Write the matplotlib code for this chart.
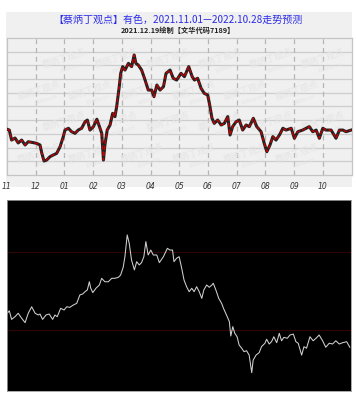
import numpy as np
import matplotlib
matplotlib.use("Agg")
import matplotlib.pyplot as plt
from matplotlib.patches import Rectangle

plt.rcParams['font.family'] = ['Noto Sans CJK SC', 'DejaVu Sans']

# month labels (axis units: months since 2021-11-01)
month_labels = ["11", "12", "01", "02", "03", "04", "05", "06", "07", "08", "09", "10"]

# top panel: forecast line (0-100 scale of the grid)
t_top = [0.0, 0.08, 0.16, 0.28, 0.39, 0.51, 0.63, 0.74, 0.92, 1.03, 1.15, 1.21, 1.29, 1.38,
         1.50, 1.61, 1.73, 1.85, 1.96, 2.02, 2.14, 2.25, 2.37, 2.48, 2.60, 2.72, 2.80, 2.89,
         3.01, 3.13, 3.22, 3.30, 3.36, 3.41, 3.49, 3.59, 3.68, 3.76, 3.82, 3.91, 3.96, 4.03,
         4.11, 4.23, 4.34, 4.43, 4.49, 4.57, 4.69, 4.81, 4.92, 5.04, 5.12, 5.22, 5.33, 5.45,
         5.54, 5.68, 5.79, 5.91, 6.06, 6.18, 6.33, 6.45, 6.53, 6.64, 6.76, 6.87, 6.99, 7.05,
         7.14, 7.22, 7.34, 7.46, 7.57, 7.69, 7.77, 7.86, 7.98, 8.09, 8.21, 8.33, 8.44, 8.58,
         8.70, 8.85, 8.96, 9.05, 9.16, 9.26, 9.37, 9.49, 9.61, 9.72, 9.90, 10.01, 10.13, 10.30,
         10.53, 10.65, 10.77, 10.88, 11.00, 11.11, 11.29, 11.46, 11.58, 11.70, 11.81, 11.99]
v_top = [33.4, 32.8, 25.5, 27.0, 23.4, 25.5, 21.9, 24.3, 23.6, 23.1, 21.9, 16.1, 10.2, 10.9,
         13.4, 14.6, 15.8, 20.7, 28.0, 32.8, 34.1, 31.6, 30.4, 32.8, 34.1, 38.9, 40.1, 32.8,
         35.3, 40.7, 35.3, 30.4, 10.9, 21.9, 32.8, 36.5, 45.0, 42.6, 49.9, 64.5, 74.2, 79.1,
         76.6, 81.5, 79.1, 87.6, 81.5, 80.3, 76.6, 69.3, 62.0, 62.0, 57.2, 65.7, 62.0, 64.5,
         74.2, 76.6, 70.6, 69.3, 74.2, 71.8, 79.1, 71.8, 69.3, 70.6, 63.3, 59.6, 58.4, 52.3,
         41.4, 37.7, 40.1, 36.5, 37.7, 42.6, 29.2, 35.3, 38.9, 40.1, 32.8, 36.5, 35.3, 41.4,
         35.3, 31.6, 23.1, 17.0, 21.9, 28.0, 25.5, 29.2, 34.1, 32.8, 34.1, 26.8, 31.6, 32.8,
         35.3, 31.6, 32.8, 26.8, 34.1, 32.8, 32.8, 26.8, 32.8, 32.8, 31.6, 32.8]

# bottom panel: white line (0-100 scale)
t_bot = [0.01, 0.08, 0.16, 0.28, 0.39, 0.51, 0.63, 0.74, 0.86, 0.98, 1.09, 1.15, 1.24, 1.36,
         1.47, 1.59, 1.67, 1.75, 1.87, 1.99, 2.08, 2.19, 2.31, 2.43, 2.54, 2.64, 2.72, 2.80,
         2.87, 2.92, 2.99, 3.10, 3.22, 3.30, 3.41, 3.53, 3.65, 3.76, 3.88, 3.96, 4.05, 4.11,
         4.19, 4.26, 4.34, 4.44, 4.52, 4.61, 4.69, 4.77, 4.84, 4.92, 5.01, 5.10, 5.22, 5.31,
         5.45, 5.59, 5.68, 5.77, 5.82, 5.91, 6.00, 6.09, 6.17, 6.26, 6.35, 6.44, 6.52, 6.61,
         6.70, 6.79, 6.86, 6.96, 7.05, 7.14, 7.19, 7.28, 7.38, 7.48, 7.56, 7.65, 7.75, 7.80,
         7.87, 7.94, 8.02, 8.09, 8.18, 8.26, 8.35, 8.44, 8.53, 8.58, 8.68, 8.79, 8.87, 8.99,
         9.05, 9.14, 9.22, 9.30, 9.40, 9.49, 9.57, 9.65, 9.77, 9.86, 9.98, 10.07, 10.15, 10.27,
         10.35, 10.44, 10.56, 10.67, 10.77, 10.88, 11.00, 11.11, 11.23, 11.35, 11.46, 11.58,
         11.70, 11.84, 11.95]
v_bot = [40.7, 42.0, 37.5, 38.9, 40.7, 38.1, 35.8, 40.7, 44.1, 40.7, 39.8, 40.3, 37.5, 39.8,
         40.3, 37.5, 39.8, 38.9, 43.3, 42.4, 44.1, 43.8, 45.0, 45.9, 50.3, 50.8, 52.0, 52.9,
         57.2, 53.8, 51.5, 53.8, 55.5, 59.0, 57.2, 57.2, 59.0, 59.0, 59.5, 60.7, 64.8, 70.3,
         81.7, 77.3, 68.6, 63.4, 67.7, 66.0, 67.2, 70.3, 78.2, 71.2, 73.8, 71.2, 71.2, 67.2,
         70.3, 74.7, 73.8, 73.8, 67.7, 69.5, 70.3, 64.2, 58.1, 54.6, 52.0, 53.8, 52.0, 54.6,
         52.0, 48.5, 52.9, 55.5, 54.3, 55.5, 56.4, 52.9, 48.5, 45.9, 42.8, 39.8, 36.3, 28.8,
         33.7, 30.2, 28.4, 24.1, 22.4, 20.6, 21.1, 18.8, 9.6, 16.2, 18.8, 20.1, 23.2, 25.0,
         27.1, 24.6, 25.8, 28.4, 25.3, 30.2, 26.3, 28.1, 27.6, 29.3, 29.8, 25.8, 25.0, 18.8,
         23.2, 22.4, 28.4, 26.3, 27.6, 29.3, 26.3, 22.9, 25.0, 24.6, 26.3, 24.6,
         25.3, 25.8, 22.9]
bot_levels = [72.8, 31.9]

W, H = 356, 395
fig = plt.figure(figsize=(W / 100, H / 100), dpi=100)
fig.patch.set_facecolor("white")

# light gray panel behind the top chart
fig.patches.append(Rectangle((6 / W, 1 - 187 / H), 346 / W, 175 / H,
                             transform=fig.transFigure, facecolor="#f0f0f0",
                             edgecolor="none", zorder=-5))

fig.text(0.5, 1 - 20 / H, "【蔡炳丁观点】有色，2021.11.01—2022.10.28走势预测",
         ha="center", va="center", fontsize=7.2, color="#2b2be6")
fig.text(0.5, 1 - 30.5 / H, "2021.12.19绘制【文华代码7189】",
         ha="center", va="center", fontsize=5.2, color="#202020", fontweight="bold")

ax = fig.add_axes([7 / W, 1 - 175 / H, 344.5 / W, 137 / H])
ax.set_zorder(2)
ax.set_facecolor("#f0f0f0")
ax.set_xlim(0, 12)
ax.set_ylim(0, 100)
for y in range(10, 100, 10):
    ax.axhline(y, color="#cdcdcd", lw=0.9, zorder=1)
for m in range(1, 12):
    ax.axvline(m, color="#b5b5b5", lw=0.9, ls=(0, (4, 3)), zorder=1)

# faint watermark, kept inside the plot
for i in range(6):
    for j in range(4):
        xx = 1.1 + i * 1.8 + (j % 2) * 0.9
        yy = 16 + j * 23
        ax.text(xx, yy, "蔡炳丁观点", fontsize=6.5, color="#e4e4e4", rotation=18,
                ha="center", va="center", zorder=1, clip_on=True)
        ax.text(xx + 0.25, yy - 7, "190biz.cn", fontsize=4, color="#e4e4e4",
                rotation=18, ha="center", va="center", zorder=1, clip_on=True)

ax.plot(t_top, v_top, color="#222222", lw=2.2, solid_joinstyle="round", zorder=3)
ax.plot(t_top, v_top, color="#c40000", lw=1.0, ls=(0, (3, 1.5)), zorder=4)

ax.set_xticks(range(12))
ax.set_xticklabels(month_labels, fontsize=5.5, style="italic", color="#333333",
                   family="DejaVu Sans")
ax.tick_params(axis="x", length=0, pad=5)
ax.set_yticks([])
for s in ax.spines.values():
    s.set_color("#c4c4c4")
    s.set_linewidth(0.9)

# bottom black panel
bx = fig.add_axes([7 / W, 1 - 391 / H, 344 / W, 191 / H])
bx.set_facecolor("black")
bx.set_xlim(0, 11.99)
bx.set_ylim(0, 100)
for lv in bot_levels:
    bx.axhline(lv, color="#2e0505", lw=0.9)
bx.plot(t_bot, v_bot, color="#d0d0d0", lw=0.75)
bx.set_xticks([])
bx.set_yticks([])
for s in bx.spines.values():
    s.set_color("#9a9a9a")
    s.set_linewidth(0.6)

fig.savefig("out.png", dpi=100)
